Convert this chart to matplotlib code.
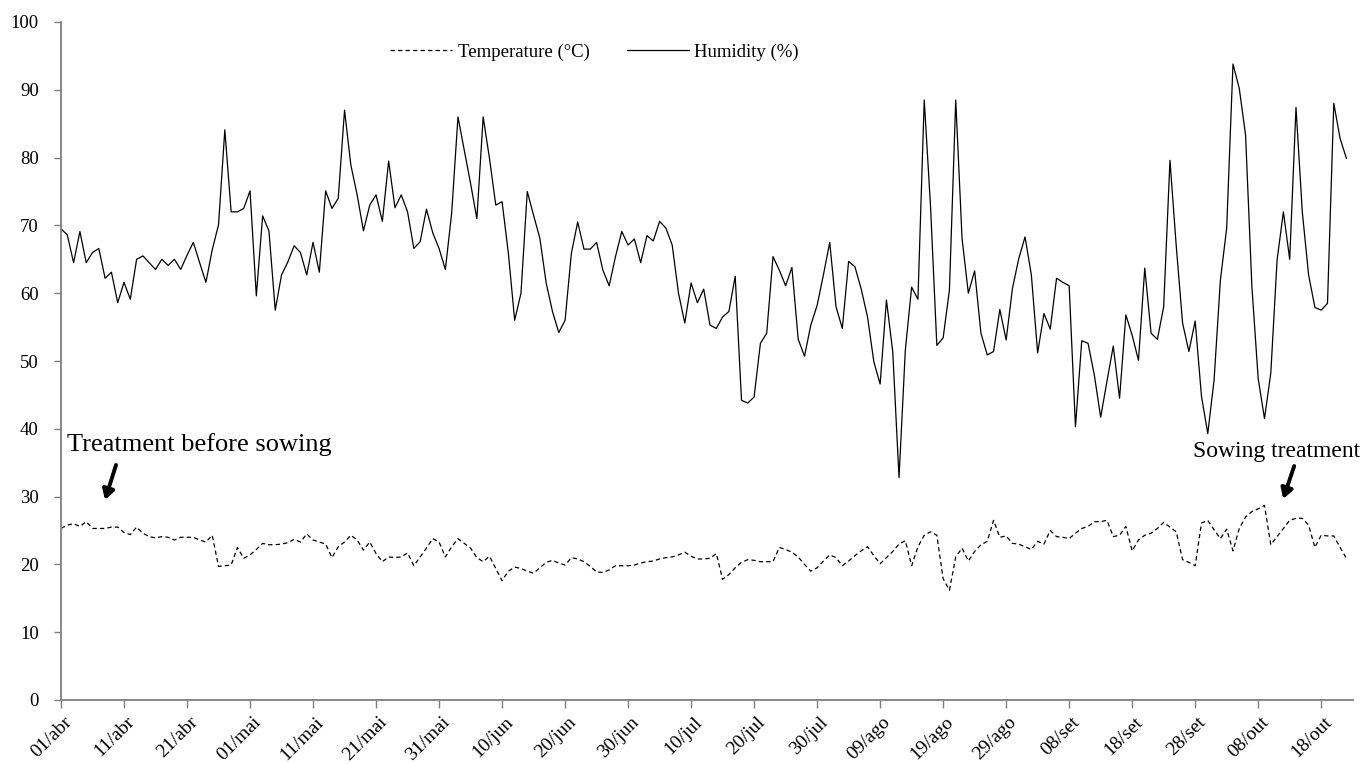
import matplotlib
matplotlib.use("Agg")
import matplotlib.pyplot as plt
import matplotlib.transforms as mtransforms
import numpy as np

plt.rcParams['font.family'] = ['Liberation Serif', 'DejaVu Serif']

# ---- data (daily values, 01/abr onward) ----
humidity = [
    69.5, 68.6, 64.5, 69.1, 64.5, 66.0, 66.6, 62.2, 63.1, 58.6,
    61.6, 59.1, 65.0, 65.5, 64.5, 63.5, 65.0, 64.1, 65.0, 63.5,
    65.6, 67.5, 64.5, 61.6, 66.4, 70.1, 84.1, 72.0, 72.0, 72.5,
    75.1, 59.6, 71.4, 69.2, 57.5, 62.7, 64.6, 67.0, 66.0, 62.7,
    67.5, 63.1, 75.1, 72.5, 74.0, 87.0, 78.9, 74.5, 69.2, 73.0,
    74.5, 70.6, 79.5, 72.6, 74.5, 72.0, 66.6, 67.6, 72.4, 68.9,
    66.6, 63.5, 71.8, 86.0, 81.1, 76.2, 71.0, 86.0, 79.9, 73.0,
    73.5, 65.9, 56.0, 60.0, 75.0, 71.5, 68.1, 61.5, 57.3, 54.2,
    56.0, 65.9, 70.5, 66.5, 66.5, 67.5, 63.4, 61.1, 65.4, 69.1,
    67.1, 68.0, 64.5, 68.5, 67.7, 70.6, 69.6, 67.1, 60.0, 55.6,
    61.5, 58.6, 60.6, 55.3, 54.8, 56.5, 57.3, 62.5, 44.2, 43.8,
    44.7, 52.6, 54.1, 65.4, 63.4, 61.1, 63.8, 53.2, 50.7, 55.3,
    58.2, 62.7, 67.5, 58.0, 54.8, 64.7, 63.9, 60.6, 56.5, 49.9,
    46.6, 59.0, 51.4, 32.8, 51.6, 60.9, 59.1, 88.5, 72.8, 52.3,
    53.4, 60.5, 88.5, 68.1, 60.0, 63.3, 54.1, 50.9, 51.4, 57.6,
    53.1, 60.7, 65.1, 68.3, 62.7, 51.2, 57.0, 54.7, 62.2, 61.6,
    61.1, 40.3, 53.0, 52.6, 47.9, 41.7, 47.0, 52.2, 44.5, 56.8,
    53.8, 50.1, 63.7, 54.1, 53.2, 58.0, 79.6, 66.9, 55.6, 51.4,
    55.9, 44.8, 39.3, 47.2, 61.9, 69.6, 93.8, 90.2, 83.3, 61.0,
    47.4, 41.5, 48.2, 64.9, 72.0, 65.0, 87.4, 72.0, 62.7, 57.9,
    57.5, 58.5, 88.0, 82.8, 79.9,
]

temperature = [
    25.3, 25.8, 26.0, 25.6, 26.3, 25.3, 25.3, 25.3, 25.5, 25.5,
    24.7, 24.4, 25.5, 24.6, 24.1, 23.9, 24.1, 24.0, 23.6, 24.0,
    24.0, 24.0, 23.6, 23.3, 24.3, 19.7, 19.8, 19.9, 22.5, 20.9,
    21.4, 22.2, 23.1, 22.9, 22.9, 23.0, 23.2, 23.7, 23.3, 24.5,
    23.6, 23.3, 23.0, 21.0, 22.6, 23.3, 24.3, 23.6, 22.1, 23.3,
    21.6, 20.4, 21.1, 21.0, 21.1, 21.7, 19.8, 21.1, 22.4, 23.8,
    23.3, 21.1, 22.6, 23.8, 23.1, 22.4, 21.0, 20.4, 21.2, 19.4,
    17.6, 19.0, 19.6, 19.4, 19.0, 18.7, 19.5, 20.3, 20.6, 20.2,
    19.9, 21.0, 20.8, 20.4, 19.7, 18.9, 18.8, 19.2, 19.8, 19.8,
    19.8, 19.9, 20.2, 20.4, 20.5, 20.8, 21.0, 21.1, 21.4, 21.8,
    21.2, 20.8, 20.8, 20.9, 21.6, 17.8, 18.5, 19.5, 20.3, 20.7,
    20.6, 20.4, 20.4, 20.4, 22.5, 22.2, 21.8, 21.1, 20.0, 19.0,
    19.5, 20.5, 21.4, 21.0, 19.8, 20.5, 21.3, 22.0, 22.6, 21.3,
    20.1, 21.0, 21.9, 23.0, 23.5, 19.8, 22.6, 24.3, 24.8, 24.3,
    17.9, 16.2, 21.1, 22.4, 20.5, 21.9, 22.9, 23.4, 26.5, 24.0,
    24.2, 23.1, 23.0, 22.6, 22.2, 23.4, 23.0, 25.0, 24.1, 24.0,
    23.8, 24.6, 25.3, 25.6, 26.3, 26.3, 26.5, 24.1, 24.3, 25.6,
    22.0, 23.6, 24.3, 24.6, 25.3, 26.2, 25.5, 24.8, 20.7, 20.3,
    19.8, 26.1, 26.5, 25.1, 23.8, 25.2, 22.0, 25.3, 27.0, 27.8,
    28.2, 28.7, 22.9, 24.1, 25.3, 26.5, 26.8, 26.8, 25.8, 22.5,
    24.3, 24.2, 24.2, 22.5, 20.9,
]

tick_days = list(range(0, 201, 10))
tick_labels = ['01/abr', '11/abr', '21/abr', '01/mai', '11/mai', '21/mai',
               '31/mai', '10/jun', '20/jun', '30/jun', '10/jul', '20/jul',
               '30/jul', '09/ago', '19/ago', '29/ago', '08/set', '18/set',
               '28/set', '08/out', '18/out']
y_ticks = list(range(0, 101, 10))

days = np.arange(len(humidity))

W, H = 1367, 764
fig = plt.figure(figsize=(W / 100, H / 100), dpi=100)
ax = fig.add_axes([61 / W, 1 - 700 / H, (1352.7 - 61) / W, 678 / H])

ax.plot(days, temperature, color='black', lw=0.9, linestyle=(0, (3.5, 2.5)),
        label='Temperature (°C)')
ax.plot(days, humidity, color='black', lw=0.9, label='Humidity (%)')

ax.set_xlim(0, 205)
ax.set_ylim(0, 100)

spine_color = '#7f7f7f'
for s in ['top', 'right']:
    ax.spines[s].set_visible(False)
for s in ['left', 'bottom']:
    ax.spines[s].set_color(spine_color)
    ax.spines[s].set_linewidth(1.3)

ax.set_yticks(y_ticks)
ax.set_yticklabels([str(v) for v in y_ticks], fontsize=13.5)
ax.set_xticks(tick_days)
ax.set_xticklabels(tick_labels, fontsize=14, rotation=45, ha='right',
                   va='center', rotation_mode='anchor')
ax.tick_params(axis='y', direction='out', length=5, width=1.0,
               color=spine_color, pad=11)
ax.tick_params(axis='x', direction='out', length=6, width=1.0,
               color=spine_color, pad=8)
offset = mtransforms.ScaledTranslation(8 / 100, 0, fig.dpi_scale_trans)
for lab in ax.get_xticklabels():
    lab.set_transform(lab.get_transform() + offset)

leg = fig.legend(handles=ax.get_lines(), loc='center left',
                 bbox_to_anchor=(390 / W, 1 - 52 / H),
                 bbox_transform=fig.transFigure, ncol=2,
                 frameon=False, fontsize=13.5, handlelength=3.3,
                 handletextpad=0.3, columnspacing=2.0,
                 borderpad=0, borderaxespad=0)

def px2data(x, y):
    return (x - 61) / 6.3, (700 - y) / 6.78

tx, ty = px2data(67, 445)
ax.text(tx, ty, 'Treatment before sowing', fontsize=19, ha='left', va='center')
a_tail = px2data(116, 465)
a_tip = px2data(105, 500)
ax.annotate('', xy=a_tip, xytext=a_tail,
            arrowprops=dict(arrowstyle='-|>,head_length=0.6,head_width=0.35',
                            lw=2.8, color='black', shrinkA=0, shrinkB=0))

tx2, ty2 = px2data(1193, 452)
ax.text(tx2, ty2, 'Sowing treatment', fontsize=17, ha='left', va='center')
b_tail = px2data(1294, 466)
b_tip = px2data(1283, 499)
ax.annotate('', xy=b_tip, xytext=b_tail,
            arrowprops=dict(arrowstyle='-|>,head_length=0.6,head_width=0.35',
                            lw=2.8, color='black', shrinkA=0, shrinkB=0))

fig.savefig('out.png', dpi=100)
